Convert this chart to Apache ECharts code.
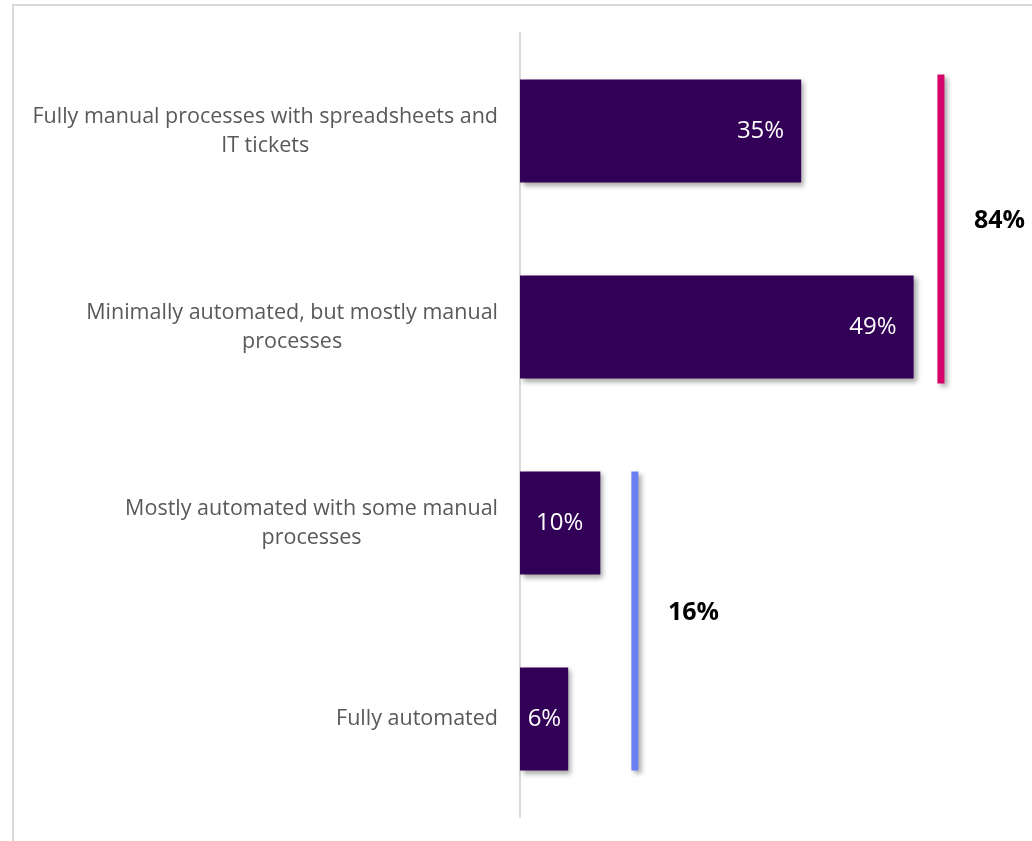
<!DOCTYPE html>
<html>
<head>
<meta charset="utf-8">
<title>Process automation</title>
<script src="https://cdn.jsdelivr.net/npm/echarts@6/dist/echarts.min.js"></script>
<style>
  html, body { margin: 0; padding: 0; background: #ffffff; }
  #chart { width: 1032px; height: 841px; }
</style>
</head>
<body>
<div id="chart"></div>
<script>
// Survey answers, top to bottom
const categories = [
  'Fully manual processes with spreadsheets and\nIT tickets',
  'Minimally automated, but mostly manual\nprocesses',
  'Mostly automated with some manual\nprocesses',
  'Fully automated'
];
const shares = [35, 49, 10, 6];

// Group totals: [x position on the value axis, first category, last category, total %]
const groupManual = [52.4, 0, 1, 84];
const groupAutomated = [14.3, 2, 3, 16];
const groupColors = ['#D6036B', '#6A7FF2'];

const chart = echarts.init(document.getElementById('chart'));

const barShadow = {
  shadowColor: 'rgba(0,0,0,0.35)',
  shadowBlur: 5,
  shadowOffsetX: 3,
  shadowOffsetY: 3
};

chart.setOption({
  animation: false,
  backgroundColor: '#ffffff',
  grid: { left: 520, right: 30, top: 33, bottom: 24, containLabel: false },
  xAxis: {
    type: 'value',
    min: 0,
    max: 60,
    show: false,
    splitLine: { show: false }
  },
  yAxis: {
    type: 'category',
    inverse: true,
    data: categories,
    axisTick: { show: false },
    axisLine: { show: true, lineStyle: { color: '#d9d9d9', width: 2 } },
    axisLabel: {
      margin: 22,
      align: 'right',
      formatter: v => v.split('\n').map(l => '{c|' + l + '}').join('\n'),
      rich: {
        c: {
          align: 'center',
          fontFamily: '"Open Sans", Lato, sans-serif',
          fontSize: 21.5,
          lineHeight: 29,
          color: '#595959'
        }
      }
    }
  },
  graphic: [
    { type: 'line', shape: { x1: 12, y1: 5, x2: 1032, y2: 5 }, style: { stroke: '#d9d9d9', lineWidth: 2 } },
    { type: 'line', shape: { x1: 13, y1: 4, x2: 13, y2: 841 }, style: { stroke: '#d9d9d9', lineWidth: 2 } }
  ],
  series: [
    {
      type: 'bar',
      data: shares.map((v, i) => i === 3
        ? { value: v, label: { distance: 7 } }
        : v),
      barCategoryGap: '47.4%',
      itemStyle: Object.assign({ color: '#330057' }, barShadow),
      label: {
        show: true,
        position: 'insideRight',
        distance: 17,
        formatter: '{c}%',
        color: '#ffffff',
        fontFamily: '"Open Sans", Lato, sans-serif',
        fontSize: 24
      }
    },
    {
      type: 'custom',
      clip: false,
      data: [groupManual, groupAutomated],
      encode: { x: 0, y: [1, 2] },
      renderItem: function (params, api) {
        const x = api.value(0);
        const a = api.coord([x, api.value(1)]);
        const b = api.coord([x, api.value(2)]);
        const half = api.size([0, 1])[1] * 0.263 + (params.dataIndex === 0 ? 5 : 0);
        const color = groupColors[params.dataIndex];
        return {
          type: 'group',
          children: [
            {
              type: 'line',
              shape: { x1: a[0], y1: a[1] - half, x2: b[0], y2: b[1] + half },
              style: Object.assign({ stroke: color, lineWidth: 7 }, barShadow)
            },
            {
              type: 'text',
              x: a[0] + 33,
              y: (a[1] + b[1]) / 2 - 8,
              style: {
                text: api.value(3) + '%',
                fill: '#000000',
                font: 'bold 25px "Open Sans", Lato, sans-serif',
                textAlign: 'left',
                textVerticalAlign: 'middle'
              }
            }
          ]
        };
      }
    }
  ]
});
</script>
</body>
</html>
